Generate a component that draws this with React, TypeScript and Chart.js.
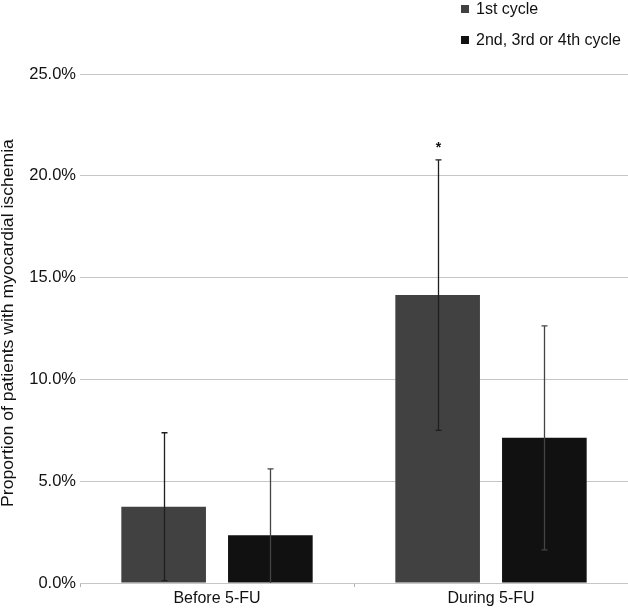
import React, { useEffect, useRef } from "react";
import { Chart, registerables } from "chart.js";

Chart.register(...registerables);

const categories = ["Before 5-FU", "During 5-FU"];
const seriesNames = ["1st cycle", "2nd, 3rd or 4th cycle"];
const firstCycle = [3.75, 14.14];
const laterCycles = [2.34, 7.13];
const firstCycleErr = [3.63, 6.64];
const laterCyclesErr = [3.27, 5.5];
const firstCycleMarks = ["", "*"];
const laterCyclesMarks = ["", ""];
const yTicks = [0, 5, 10, 15, 20, 25];
const yTitle = "Proportion of patients with myocardial ischemia";

const colors = ["#414141", "#111111"];
const errColors = ["#1e1e1e", "#444444"];
const FONT = '"Liberation Sans", Arial, Helvetica, sans-serif';

const errors = [firstCycleErr, laterCyclesErr];
const marks = [firstCycleMarks, laterCyclesMarks];

const extrasPlugin = {
  id: "extras",
  afterDatasetsDraw(chart: any) {
    const ctx = chart.ctx;
    const y = chart.scales.y;
    ctx.save();
    chart.data.datasets.forEach((ds: any, di: number) => {
      const meta = chart.getDatasetMeta(di);
      meta.data.forEach((bar: any, i: number) => {
        const v = ds.data[i];
        const e = errors[di][i];
        const hi = v + e;
        const lo = Math.max(0, v - e);
        const x = Math.round(bar.x) + 0.5;
        const yh = y.getPixelForValue(hi);
        const yl = y.getPixelForValue(lo);
        ctx.strokeStyle = errColors[di];
        ctx.lineWidth = 1.3;
        ctx.beginPath();
        ctx.moveTo(x, yh);
        ctx.lineTo(x, yl);
        ctx.moveTo(x - 3, yh);
        ctx.lineTo(x + 3, yh);
        if (v - e > 0) {
          ctx.moveTo(x - 3, yl);
          ctx.lineTo(x + 3, yl);
        }
        ctx.stroke();
        const m = marks[di][i];
        if (m) {
          ctx.fillStyle = "#111";
          ctx.font = "bold 14px " + FONT;
          ctx.textAlign = "center";
          ctx.textBaseline = "middle";
          ctx.fillText(m, x, yh - 12);
        }
      });
    });
    ctx.restore();
  },
  afterDraw(chart: any) {
    const ctx = chart.ctx;
    ctx.save();
    // y title
    ctx.translate(13.3, 323);
    ctx.rotate(-Math.PI / 2);
    ctx.scale(1.1, 1);
    ctx.fillStyle = "#111";
    ctx.font = "16px " + FONT;
    ctx.textAlign = "center";
    ctx.textBaseline = "alphabetic";
    ctx.fillText(yTitle, 0, 0);
    ctx.restore();
    // legend
    ctx.save();
    ctx.font = "16px " + FONT;
    ctx.textAlign = "left";
    ctx.textBaseline = "alphabetic";
    seriesNames.forEach((name, i) => {
      const base = 13.5 + i * 31;
      ctx.fillStyle = colors[i];
      ctx.fillRect(461, base - 8.5, 8, 8);
      ctx.fillStyle = "#111";
      ctx.fillText(name, 476, base);
    });
    ctx.restore();
  },
};

export default function App() {
  const ref = useRef<HTMLCanvasElement>(null);
  useEffect(() => {
    if (!ref.current) return;
    const chart = new Chart(ref.current, {
      type: "bar",
      data: {
        labels: categories,
        datasets: [
          { label: seriesNames[0], data: firstCycle, backgroundColor: colors[0] },
          { label: seriesNames[1], data: laterCycles, backgroundColor: colors[1] },
        ],
      },
      options: {
        responsive: false,
        animation: false,
        events: [],
        layout: { padding: { top: 74, left: 0, right: 0, bottom: 0 } },
        datasets: { bar: { categoryPercentage: 0.779, barPercentage: 0.793 } },
        plugins: { legend: { display: false }, tooltip: { enabled: false } },
        scales: {
          x: {
            afterFit: (s: any) => { s.height = 27; },
            grid: { drawOnChartArea: false, drawTicks: true, tickLength: 4, color: "#b0b0b0" },
            border: { display: true, color: "#c6c6c6" },
            ticks: { font: { family: FONT, size: 16 }, color: "#111", padding: 2 },
          },
          y: {
            min: 0,
            max: 25,
            afterFit: (s: any) => { s.width = 80; },
            afterBuildTicks: (s: any) => { s.ticks = yTicks.map((v) => ({ value: v })); },
            grid: { drawTicks: false, color: "#c6c6c6" },
            border: { display: false },
            ticks: {
              font: { family: FONT, size: 16.5 },
              color: "#111",
              padding: 4,
              callback: (v: any) => Number(v).toFixed(1) + "%",
            },
          },
        },
      },
      plugins: [extrasPlugin],
    });
    return () => chart.destroy();
  }, []);
  return (
    <div style={{ position: "fixed", left: 0, top: 0, width: 628, height: 610, background: "#fff" }}>
      <canvas ref={ref} width={628} height={610} />
    </div>
  );
}
